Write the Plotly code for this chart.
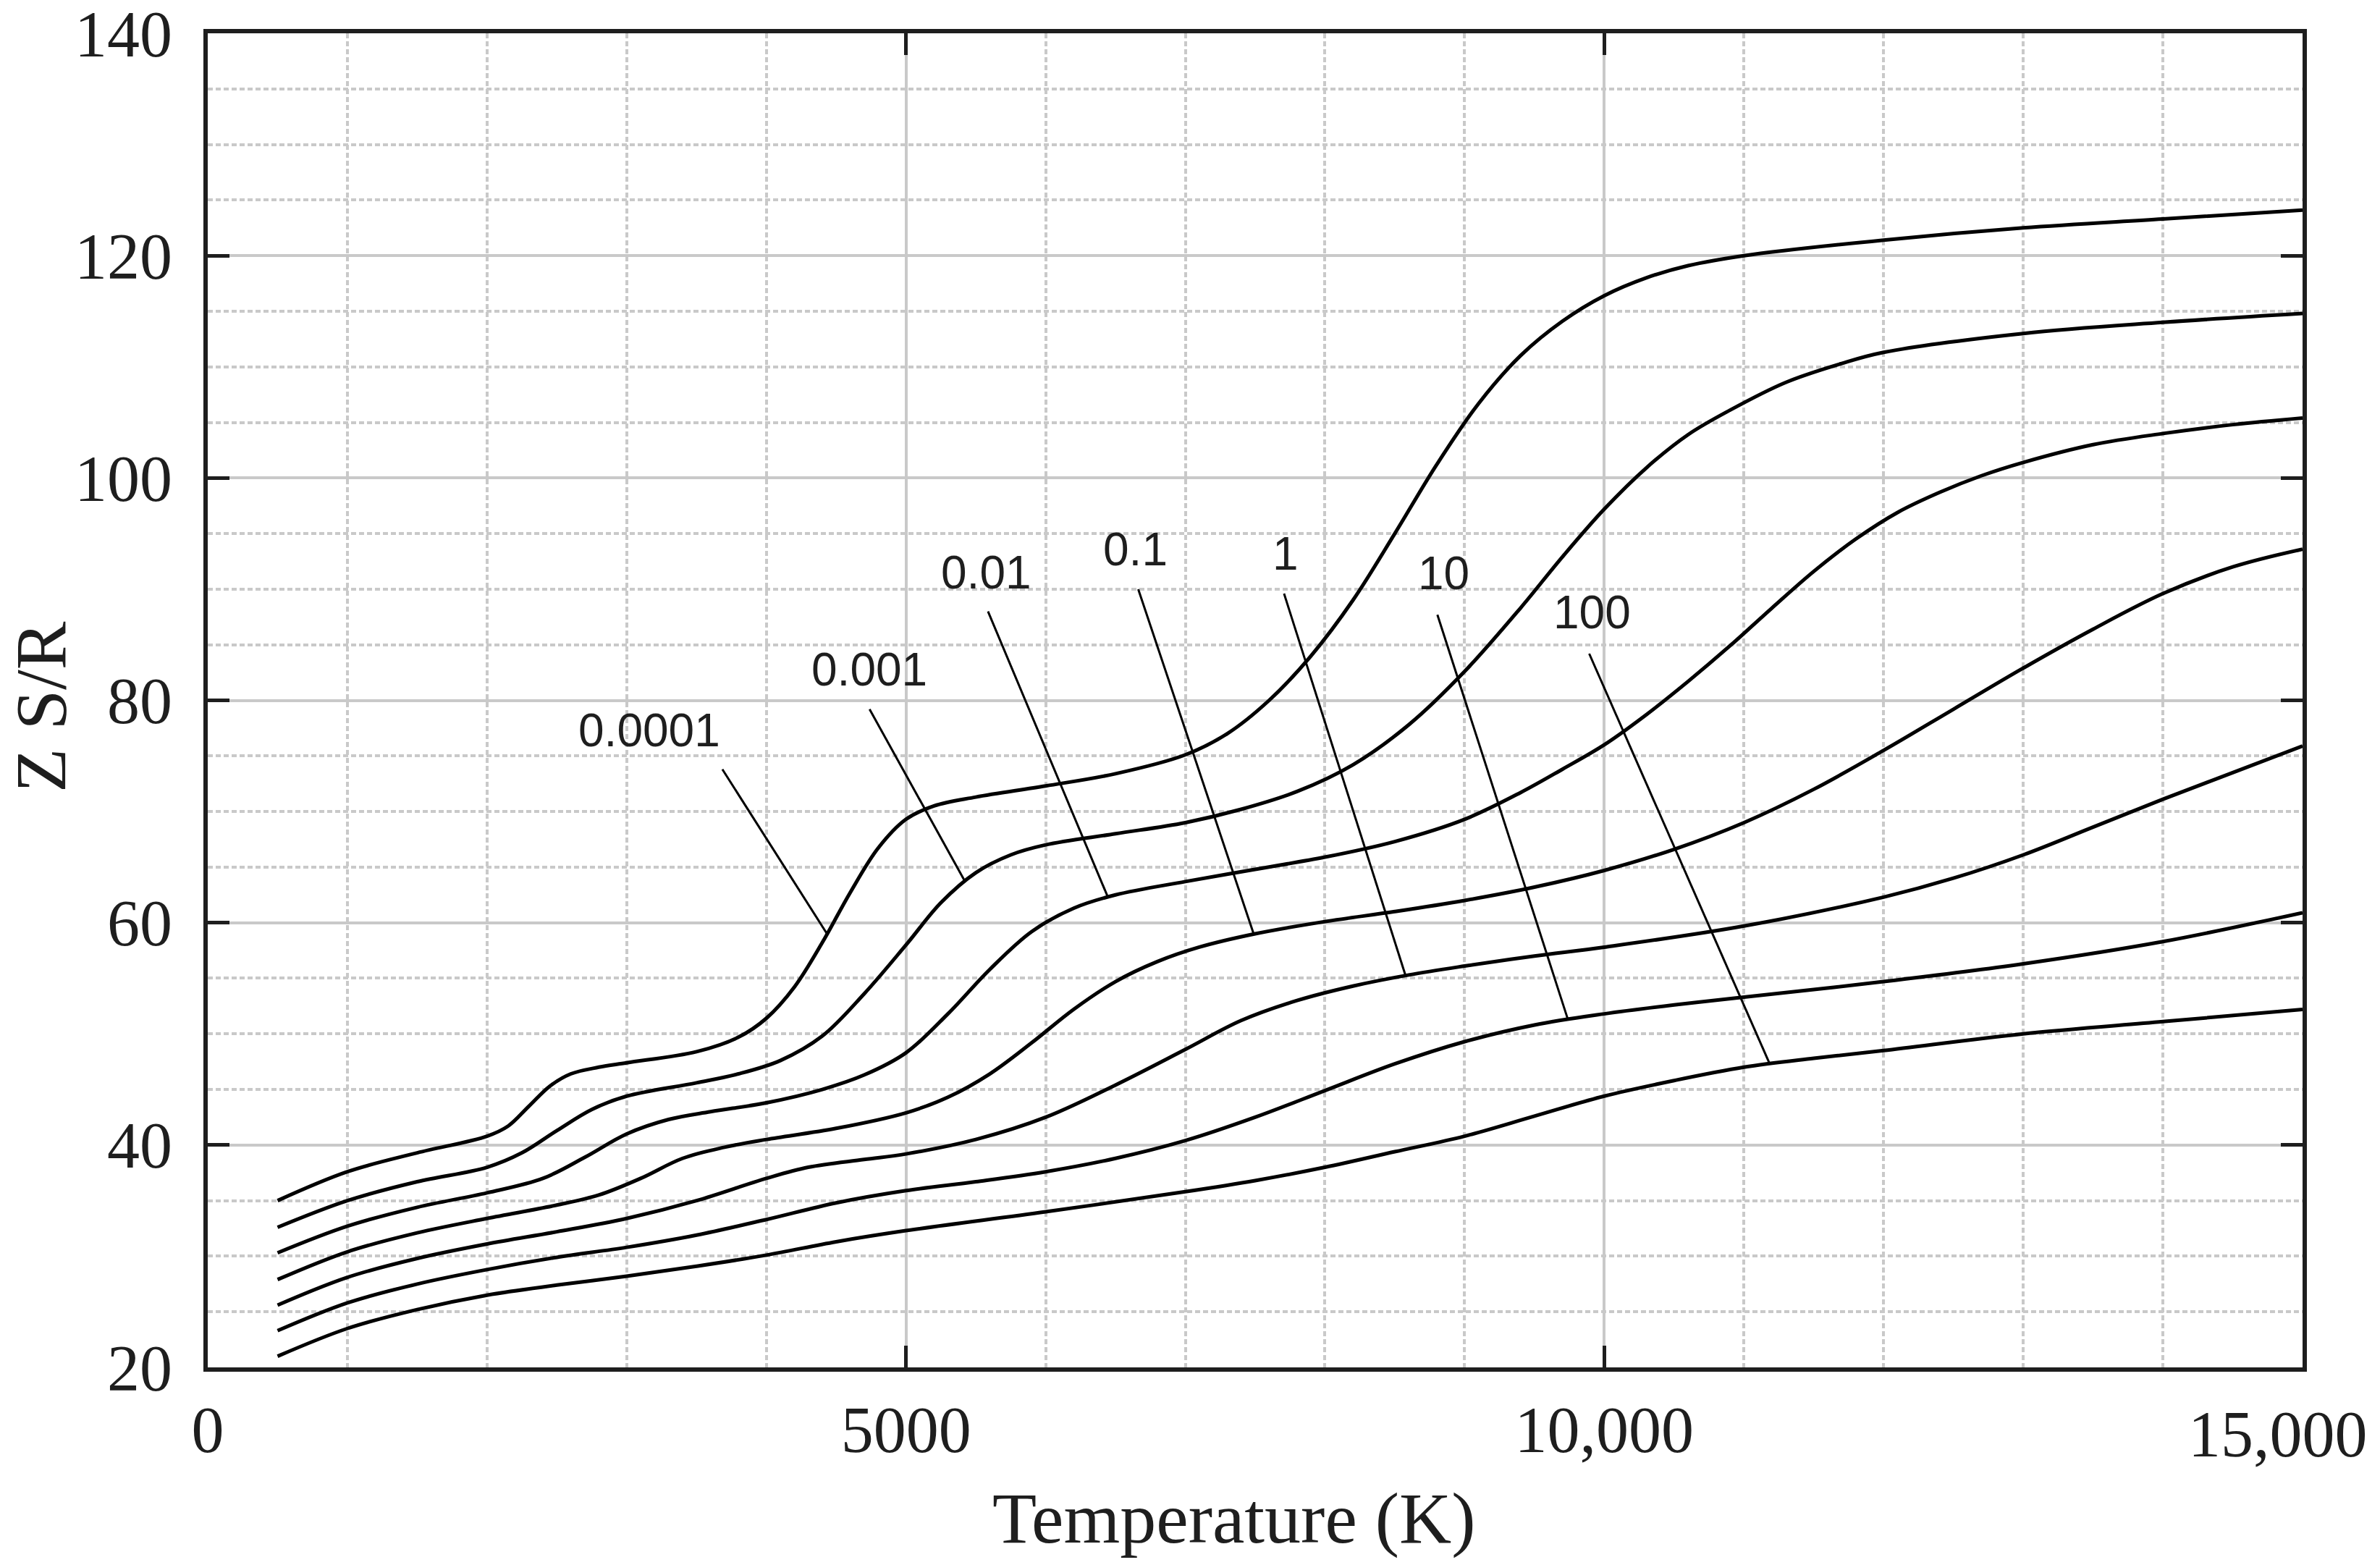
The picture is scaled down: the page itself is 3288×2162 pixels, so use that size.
import numpy as np
import plotly.graph_objects as go

# ---------------- data ----------------
pressure_labels = ["0.0001", "0.001", "0.01", "0.1", "1", "10", "100"]

t_p0001 = [500, 1000, 1500, 2000, 2150, 2300, 2450, 2600, 2800, 3000, 3500, 3800, 4000, 4200, 4400, 4600,
           4800, 5000, 5200, 5500, 6000, 6500, 7000, 7300, 7600, 7900, 8200, 8500, 8800, 9100, 9400, 9700,
           10000, 10300, 10600, 11000, 12000, 13000, 14000, 15000]
zsr_p0001 = [35.0, 37.6, 39.3, 40.8, 41.7, 43.5, 45.3, 46.4, 47.0, 47.4, 48.4, 49.7, 51.4, 54.2, 58.2, 62.7,
             66.7, 69.3, 70.5, 71.3, 72.3, 73.4, 75.1, 77.0, 80.0, 84.0, 89.0, 95.0, 101.2, 106.7, 111.0, 114.1,
             116.4, 118.0, 119.1, 120.0, 121.4, 122.5, 123.3, 124.1]

t_p001 = [500, 1000, 1500, 2000, 2250, 2500, 2750, 3000, 3500, 3800, 4100, 4400, 4700, 5000, 5250, 5500,
          5750, 6000, 6500, 7000, 7400, 7800, 8200, 8600, 9000, 9400, 9700, 10000, 10300, 10600, 10900, 11300,
          11700, 12000, 13000, 14000, 15000]
zsr_p001 = [32.6, 35.0, 36.7, 38.0, 39.3, 41.3, 43.2, 44.4, 45.6, 46.4, 47.6, 49.8, 53.6, 58.0, 61.8, 64.5,
            66.1, 67.0, 68.0, 69.0, 70.2, 71.8, 74.2, 77.8, 82.6, 88.3, 92.9, 97.2, 100.9, 103.9, 106.1, 108.6,
            110.3, 111.3, 113.0, 114.0, 114.8]

t_p01 = [500, 1000, 1500, 2000, 2400, 2700, 3000, 3300, 3600, 4000, 4400, 4700, 5000, 5300, 5600, 5900,
         6200, 6500, 7000, 7500, 8000, 8500, 9000, 9400, 9700, 10000, 10300, 10600, 10900, 11200, 11500,
         11800, 12100, 12400, 12700, 13000, 13500, 14000, 14500, 15000]
zsr_p01 = [30.3, 32.7, 34.4, 35.7, 37.0, 38.9, 41.0, 42.3, 43.0, 43.8, 45.0, 46.3, 48.3, 51.8, 55.8, 59.2,
           61.3, 62.5, 63.7, 64.8, 65.9, 67.3, 69.3, 71.7, 73.8, 76.0, 78.7, 81.7, 84.9, 88.3, 91.6,
           94.5, 96.9, 98.7, 100.2, 101.4, 103.0, 104.0, 104.8, 105.4]

t_p1 = [500, 1000, 1500, 2000, 2500, 2800, 3100, 3400, 3700, 4000, 4500, 5000, 5300, 5600, 5900, 6200,
        6500, 6800, 7100, 7500, 8000, 8500, 9000, 9500, 10000, 10500, 11000, 11500, 12000, 12500, 13000,
        13500, 14000, 14500, 15000]
zsr_p1 = [27.9, 30.4, 32.1, 33.4, 34.6, 35.5, 37.0, 38.8, 39.8, 40.5, 41.5, 42.9, 44.3, 46.4, 49.2, 52.2,
          54.7, 56.5, 57.8, 59.0, 60.1, 61.0, 62.0, 63.2, 64.7, 66.6, 69.0, 72.0, 75.5, 79.2, 82.9,
          86.4, 89.6, 92.0, 93.6]

t_1 = [500, 1000, 1500, 2000, 2500, 3000, 3500, 4000, 4300, 4700, 5000, 5500, 6000, 6500, 7000, 7400,
       7800, 8200, 8600, 9000, 9500, 10000, 11000, 12000, 12500, 13000, 13500, 14000, 14500, 15000]
zsr_1 = [25.6, 28.1, 29.8, 31.1, 32.2, 33.4, 35.0, 37.0, 38.0, 38.7, 39.2, 40.5, 42.5, 45.4, 48.6, 51.2,
         53.0, 54.3, 55.3, 56.1, 57.0, 57.8, 59.7, 62.3, 64.0, 66.1, 68.6, 71.1, 73.5, 75.9]

t_10 = [500, 1000, 1500, 2000, 2500, 3000, 3500, 4000, 4500, 5000, 5500, 6000, 6500, 7000, 7500, 8000,
        8500, 9000, 9500, 10000, 10500, 11000, 12000, 13000, 14000, 15000]
zsr_10 = [23.3, 25.8, 27.5, 28.8, 29.9, 30.8, 31.9, 33.3, 34.8, 35.9, 36.7, 37.6, 38.8, 40.4, 42.5, 44.9,
          47.3, 49.3, 50.8, 51.8, 52.6, 53.3, 54.7, 56.3, 58.3, 60.9]

t_100 = [500, 1000, 1500, 2000, 2500, 3000, 3500, 4000, 4500, 5000, 6000, 7000, 7500, 8000, 8500, 9000,
         9500, 10000, 10500, 11000, 11500, 12000, 13000, 14000, 15000]
zsr_100 = [21.0, 23.5, 25.2, 26.5, 27.4, 28.2, 29.1, 30.1, 31.3, 32.3, 34.0, 35.8, 36.8, 38.0, 39.4, 40.8,
           42.6, 44.4, 45.8, 47.0, 47.8, 48.5, 50.0, 51.1, 52.2]

curves_t = [t_p0001, t_p001, t_p01, t_p1, t_1, t_10, t_100]
curves_z = [zsr_p0001, zsr_p001, zsr_p01, zsr_p1, zsr_1, zsr_10, zsr_100]

# temperature at which each label's leader line meets its curve
label_attach_t = [4435, 5424, 6446, 7490, 8577, 9740, 11185]

x_tick_vals = [0, 5000, 10000, 15000]
x_tick_text = ["0", "5000", "10,000", "15,000"]
y_tick_vals = [20, 40, 60, 80, 100, 120, 140]

# ---------------- layout constants ----------------
label_text_pos = [(3163, 77.3), (4739, 82.8), (5576, 91.5), (6642, 93.6), (7718, 93.2), (8848, 91.4), (9913, 87.9)]
leader_start = [(3685, 73.8), (4739, 79.2), (5587, 88.0), (6663, 90.0), (7707, 89.6), (8805, 87.7), (9892, 84.2)]

INK = "#1e1e1e"
GRID = "#c9c9c9"
SERIF = "Liberation Serif, Times New Roman, serif"
SANS = "Liberation Sans, Arial, sans-serif"
TICK_FONT = dict(family=SERIF, size=90, color=INK)

fig = go.Figure()
for name, t, z in zip(pressure_labels, curves_t, curves_z):
    fig.add_trace(go.Scatter(x=t, y=z, mode="lines", name=name,
                             line=dict(color="#000000", width=5, shape="spline", smoothing=1.0),
                             showlegend=False, hoverinfo="skip"))

for i, lab in enumerate(pressure_labels):
    at = label_attach_t[i]
    az = float(np.interp(at, curves_t[i], curves_z[i]))
    sx, sy = leader_start[i]
    fig.add_shape(type="line", xref="x", yref="y", x0=sx, y0=sy, x1=at, y1=az,
                  line=dict(color="#000000", width=3))
    tx, ty = label_text_pos[i]
    fig.add_annotation(x=tx, y=ty, xref="x", yref="y", text=lab, showarrow=False,
                       font=dict(family=SANS, size=64, color=INK),
                       xanchor="center", yanchor="middle")

# the last x tick label sits pulled in from the right edge, as in the reference
shown_x_text = list(x_tick_text[:-1]) + [""]
fig.add_annotation(text=x_tick_text[-1], x=x_tick_vals[-1], xref="x", y=0, yref="paper",
                   xanchor="right", yanchor="middle", xshift=92, yshift=-92,
                   showarrow=False, font=TICK_FONT)

# axis titles
fig.add_annotation(text="Temperature (K)", xref="paper", yref="paper", x=0.49, y=-0.113,
                   xanchor="center", yanchor="middle", showarrow=False,
                   font=dict(family=SERIF, size=100, color=INK))
fig.add_annotation(text="Z S/R", xref="paper", yref="paper", x=-0.0795, y=0.495,
                   xanchor="center", yanchor="middle", showarrow=False, textangle=-90,
                   font=dict(family=SERIF, size=100, color=INK))

fig.update_xaxes(range=[0, 15000], tickvals=x_tick_vals, ticktext=shown_x_text,
                 showline=True, linewidth=6, linecolor=INK, mirror="ticks",
                 ticks="inside", ticklen=30, tickwidth=5, tickcolor=INK,
                 showgrid=True, gridcolor=GRID, gridwidth=4,
                 minor=dict(dtick=1000, showgrid=True, gridcolor=GRID, gridwidth=4, griddash="7px,4px"),
                 zeroline=False, ticklabelstandoff=3, ticklabeloverflow="allow", automargin=False,
                 tickfont=TICK_FONT)
fig.update_yaxes(range=[20, 140], tickvals=y_tick_vals,
                 showline=True, linewidth=6, linecolor=INK, mirror="ticks",
                 ticks="inside", ticklen=30, tickwidth=5, tickcolor=INK,
                 showgrid=True, gridcolor=GRID, gridwidth=4,
                 minor=dict(dtick=5, showgrid=True, gridcolor=GRID, gridwidth=4, griddash="7px,4px"),
                 zeroline=False, ticklabelstandoff=25, ticklabeloverflow="allow", automargin=False,
                 tickfont=TICK_FONT)

fig.update_layout(width=3288, height=2162, autosize=False,
                  margin=dict(l=287, r=107, t=46, b=273),
                  paper_bgcolor="white", plot_bgcolor="white")

fig.write_html("out.html")
